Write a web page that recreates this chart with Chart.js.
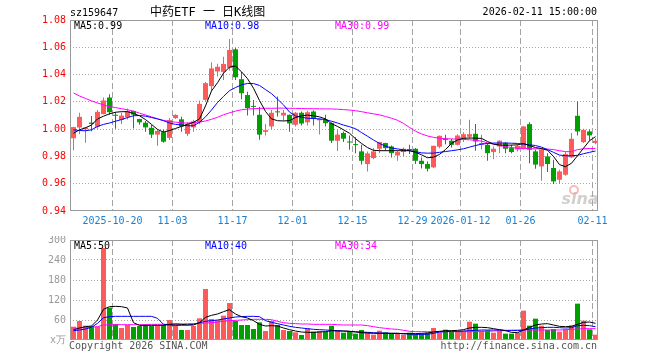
<!DOCTYPE html>
<html><head><meta charset="utf-8">
<script src="https://cdn.jsdelivr.net/npm/chart.js@4.4.1/dist/chart.umd.min.js"></script>
<style>
html,body{margin:0;padding:0;background:#fff;}
#wrap{position:relative;width:660px;height:360px;overflow:hidden;background:#fff;}
#c1{position:absolute;left:0;top:0;}
#c2{position:absolute;left:0;top:236px;}
</style></head><body>
<div id="wrap"><canvas id="c1" width="660" height="236"></canvas><canvas id="c2" width="660" height="124"></canvas></div>
<script>
// ---------------- DATA ----------------
const stockCode = 'sz159647';
const chartTitle = '中药ETF 一 日K线图';
const stamp = '2026-02-11 15:00:00';

const dates = [
 '2025-10-09','2025-10-10','2025-10-13','2025-10-14','2025-10-15','2025-10-16','2025-10-17',
 '2025-10-20','2025-10-21','2025-10-22','2025-10-23','2025-10-24',
 '2025-10-27','2025-10-28','2025-10-29','2025-10-30','2025-10-31',
 '2025-11-03','2025-11-04','2025-11-05','2025-11-06','2025-11-07',
 '2025-11-10','2025-11-11','2025-11-12','2025-11-13','2025-11-14',
 '2025-11-17','2025-11-18','2025-11-19','2025-11-20','2025-11-21',
 '2025-11-24','2025-11-25','2025-11-26','2025-11-27','2025-11-28',
 '2025-12-01','2025-12-02','2025-12-03','2025-12-04','2025-12-05',
 '2025-12-08','2025-12-09','2025-12-10','2025-12-11','2025-12-12',
 '2025-12-15','2025-12-16','2025-12-17','2025-12-18','2025-12-19',
 '2025-12-22','2025-12-23','2025-12-24','2025-12-25','2025-12-26',
 '2025-12-29','2025-12-30','2025-12-31',
 '2026-01-05','2026-01-06','2026-01-07','2026-01-08','2026-01-09',
 '2026-01-12','2026-01-13','2026-01-14','2026-01-15','2026-01-16',
 '2026-01-19','2026-01-20','2026-01-21','2026-01-22','2026-01-23',
 '2026-01-26','2026-01-27','2026-01-28','2026-01-29','2026-01-30',
 '2026-02-02','2026-02-03','2026-02-04','2026-02-05','2026-02-06',
 '2026-02-09','2026-02-10','2026-02-11'
];
const tickDates  = ['2025-10-20','2025-11-03','2025-11-17','2025-12-01','2025-12-15','2025-12-29','2026-01-12','2026-01-26','2026-02-11'];
const tickLabels = ['2025-10-20','11-03','11-17','12-01','12-15','12-29','2026-01-12','01-26','02-11'];

const open = [0.9933,1.0012,0.9998,1.0048,1.0017,1.011,1.0232,1.0102,1.0067,1.0088,
 1.0133,1.0074,1.0047,1.001,0.996,0.9978,0.9936,1.0081,1.0072,0.9965,
 1.0013,1.005,1.0215,1.0315,1.0423,1.042,1.045,1.0585,1.0366,1.025,
 1.0168,1.0105,0.998,1.002,1.0127,1.01,1.0105,1.0032,1.012,1.005,
 1.0129,1.0065,1.007,1.0045,0.9915,0.9972,0.9906,0.9887,0.9837,0.9744,
 0.9788,0.9856,0.9898,0.9873,0.9807,0.9832,0.985,0.9856,0.9768,0.9744,
 0.972,0.9871,0.9924,0.9915,0.9885,0.993,0.9944,0.9966,0.9887,0.9885,
 0.9832,0.9873,0.99,0.9861,0.9851,0.9861,1.0037,0.9837,0.9727,0.98,
 0.9715,0.9629,0.9666,0.9793,1.0098,0.9905,0.9983,0.9898];
const close = [1.0015,1.009,1.0012,1.0038,1.0127,1.021,1.0124,1.0098,1.0099,1.0132,
 1.0106,1.005,1.0013,0.996,0.9987,0.9908,1.0066,1.0104,1.002,1.0037,
 1.0057,1.0185,1.0337,1.0445,1.0457,1.0478,1.058,1.038,1.0263,1.0155,
 1.0163,0.996,0.9993,1.012,1.0123,1.012,1.0042,1.012,1.0041,1.0124,
 1.008,1.0075,1.0044,0.9915,0.996,0.993,0.9902,0.9883,0.9768,0.9822,
 0.9837,0.9905,0.9861,0.9824,0.9832,0.9856,0.9847,0.9768,0.9744,0.971,
 0.9878,0.9951,0.9921,0.9885,0.9953,0.9963,0.9963,0.991,0.9898,0.9824,
 0.9856,0.9915,0.9856,0.9832,0.9878,1.002,0.9849,0.974,0.9849,0.9744,
 0.9617,0.969,0.9817,0.9929,0.9983,0.9995,0.9954,0.9915];
const high = [1.0018,1.012,1.0014,1.0096,1.0141,1.0232,1.0256,1.0125,1.012,1.0152,
 1.0135,1.0076,1.006,1.003,0.9995,0.9995,1.0081,1.011,1.009,1.005,
 1.0069,1.021,1.0345,1.049,1.048,1.053,1.066,1.0595,1.042,1.0275,
 1.0213,1.0165,1.0037,1.0141,1.024,1.0141,1.0108,1.0125,1.013,1.0134,
 1.0139,1.008,1.0105,1.005,0.9995,0.9983,0.9953,0.994,0.9885,0.9837,
 0.9861,0.9907,0.99,0.988,0.9841,0.9866,0.9885,0.9861,0.9793,0.9763,
 0.9878,0.9953,0.9958,0.9929,0.9963,0.9978,1.0068,1.0037,0.9958,0.9898,
 0.9873,0.9918,0.9905,0.9885,0.989,1.002,1.0051,0.985,0.9861,0.9824,
 0.9776,0.9702,0.9832,0.9971,1.0202,1.0002,0.9995,0.9934];
const low = [0.9845,0.9963,0.990,0.9985,1.0002,1.011,1.0105,1.0002,1.0037,1.007,
 1.0004,1.0032,0.998,0.9935,0.9878,0.990,0.992,1.0075,0.998,0.995,
 0.998,1.0035,1.020,1.028,1.0385,1.036,1.043,1.036,1.022,1.01,
 1.01,0.9922,0.9954,1.0,1.0093,1.0061,0.998,1.002,1.0027,1.0027,
 1.0027,0.996,1.002,0.9898,0.984,0.9905,0.9849,0.9824,0.974,0.969,
 0.978,0.9824,0.9841,0.9793,0.9768,0.98,0.9817,0.9744,0.9712,0.969,
 0.9715,0.986,0.989,0.9866,0.988,0.9905,0.993,0.9841,0.985,0.9768,
 0.978,0.9824,0.9824,0.9824,0.9837,0.985,0.975,0.971,0.9622,0.9685,
 0.9598,0.9598,0.9659,0.9788,0.9954,0.9898,0.9915,0.989];

const priceMA5 = [0.997,0.9995,1.001,1.003,1.0075,1.0095,1.0112,1.0124,1.0128,1.0128,1.0115,1.0098,1.007,1.0035,0.9998,0.9978,0.999,1.0005,1.002,1.0035,1.005,1.0075,
 1.017,1.028,1.034,1.041,1.0455,1.0462,1.042,1.037,1.030,1.021,1.013,1.0075,1.0062,1.006,1.0063,1.0085,1.0098,1.0103,1.0098,1.009,1.0075,1.004,
 1.002,0.9995,0.997,0.993,0.9895,0.9865,0.9845,0.9842,0.9842,0.9842,0.9842,0.9842,0.9842,0.983,0.9812,0.979,0.9795,0.9815,0.985,0.9895,0.992,0.9933,
 0.9935,0.9934,0.9932,0.991,0.989,0.9884,0.9882,0.9883,0.9885,0.9895,0.988,0.9865,0.9858,0.9845,0.98,0.974,0.9725,0.975,0.9805,0.986,0.9915,0.9945];
const priceMA10 = [0.9995,0.999,0.9988,0.9995,1.002,1.0035,1.0045,1.0058,1.007,1.0085,1.0098,1.01,1.0095,1.0085,1.0075,1.0062,1.0045,1.0035,1.003,1.0025,1.0025,1.005,
 1.009,1.014,1.0195,1.024,1.0282,1.0305,1.0325,1.0335,1.0334,1.032,1.029,1.026,1.022,1.0178,1.0125,1.0097,1.0087,1.008,1.0078,1.0075,1.007,1.0058,
 1.0045,1.003,1.0018,1.0003,0.9975,0.9948,0.992,0.9895,0.9875,0.9862,0.9855,0.9849,0.9842,0.9835,0.9826,0.9824,0.9824,0.983,0.9836,0.9842,0.9848,0.9856,
 0.9868,0.988,0.989,0.9895,0.9898,0.9898,0.9898,0.9897,0.9895,0.989,0.9885,0.988,0.9868,0.985,0.983,0.981,0.9805,0.9805,0.9808,0.982,0.983,0.984];
const priceMA30 = [1.0265,1.0243,1.0225,1.0207,1.0192,1.0178,1.0164,1.0158,1.015,1.0142,1.0132,1.0117,1.0104,1.009,1.0076,1.0064,1.0057,1.0051,1.0047,1.0044,1.0049,1.0052,
 1.006,1.0072,1.0087,1.0105,1.012,1.0132,1.0142,1.0147,1.015,1.0152,1.0153,1.0153,1.0154,1.0154,1.0153,1.0152,1.0151,1.015,1.015,1.0149,1.0148,1.0148,
 1.0146,1.0143,1.014,1.0135,1.0128,1.012,1.0112,1.0105,1.0093,1.008,1.0065,1.0042,1.0012,0.9985,0.9965,0.995,0.994,0.9933,0.993,0.9928,0.9927,0.9925,
 0.9922,0.9918,0.9912,0.99,0.989,0.988,0.9872,0.9865,0.986,0.9858,0.9857,0.9856,0.9855,0.9854,0.985,0.9842,0.9835,0.9835,0.985,0.9856,0.9858,0.9859];

const volume = [40,57,43,42,40,276,97,48,36,45, 39,42,48,42,45,45,60,45,30,30,
 42,65,153,63,60,73,111,57,45,45, 33,53,27,57,45,30,27,23,15,35,
 25,27,25,43,28,22,26,19,30,24, 16,28,23,20,19,16,22,19,19,22,
 36,23,31,26,27,28,55,49,28,29, 22,28,19,19,22,88,43,64,43,30,
 33,25,32,44,109,58,32,16];
const volMA5 = [30,36,40,42,60,92,100,101,100,96,52,44,43,44,44,44,47,48,47,45,45,52,68,74,78,85,91,78,70,66,58,47,42,43,42,36,31,27,24,23,23,24,25,28,
 27,27,26,24,22,21,20,20,20,20,20,19,19,19,20,21,24,26,28,28,29,31,36,38,38,37,34,31,28,23,22,30,38,45,48,49,45,41,40,41,47,53,54,50];
const volMA10 = [28,30,33,38,50,67,70,71,71,71,71,71,71,71,65,47,45,44,44,45,47,52,56,58,60,63,66,69,70,71,71,70,58,53,49,45,41,38,36,34,32,31,30,29,
 28,27,26,25,24,23,22,21,21,20,20,19,18,17,17,17,20,24,25,26,26,27,28,29,30,30,30,30,29,29,28,30,33,36,37,38,38,37,36,37,43,44,43,40];
const volMA30 = [35,36,37,38,40,45,46,46,46,46,46,46,46,47,47,47,47,48,48,49,49,50,51,52,54,56,58,59,60,61,62,62,62,61,56,52,50,49,48,48,47,47,47,47,
 46,45,45,45,45,43,40,37,35,33,32,29,26,25,25,25,25,25,25,25,25,25,25,25,26,26,27,28,28,29,30,30,30,30,30,30,30,30,31,32,33,34,34,34];

// ---------------- STYLE / HELPERS ----------------
const MONO = '"DejaVu Sans Mono","Liberation Mono",monospace';
const TITLEFONT = '"DejaVu Sans Mono","Noto Sans CJK SC",monospace';
const RED = '#ff5a5a', GREEN = '#00a000';
const GRID = '#a4a4a4';
const N = dates.length;
const idx = dates.map((d, i) => i);
const tickIdx = tickDates.map(d => dates.indexOf(d));
const candleColors = idx.map(i => close[i] >= open[i] ? RED : GREEN);
const XMIN = -0.5 - 1/12, XMAX = N - 0.5 - 1/12;

function xScale(showLabels, height) {
  return {
    type: 'linear', offset: false, min: XMIN, max: XMAX,
    afterBuildTicks(s) { s.ticks = tickIdx.map(i => ({ value: i - 0.5 })); },
    ticks: { display: showLabels, autoSkip: false, maxRotation: 0, minRotation: 0,
      color: '#1b80d2', font: { family: MONO, size: 10 }, padding: 4,
      callback: (v, k) => tickLabels[k] },
    grid: { display: false, drawTicks: false }, border: { display: false },
    afterFit(s) { s.height = height; s.paddingLeft = 0; s.paddingRight = 0; }
  };
}
function yScale(min, max, step, color, cb) {
  return {
    type: 'linear', min, max,
    ticks: { stepSize: step, color, font: { family: MONO, size: 10 }, padding: 4, callback: cb },
    grid: { display: false, drawTicks: false }, border: { display: false },
    afterFit(s) { s.width = 70; s.paddingTop = 0; s.paddingBottom = 0; }
  };
}
function gridPlugin(drawTexts) {
  return {
    id: 'sinaGrid',
    beforeDatasetsDraw(chart) {
      const { ctx, chartArea: a, scales: { x, y } } = chart;
      ctx.save(); ctx.lineWidth = 1; ctx.strokeStyle = GRID;
      ctx.setLineDash([1, 2]);
      y.ticks.forEach(t => {
        const py = Math.floor(y.getPixelForValue(t.value)) + 0.5;
        if (py < a.top + 2 || py > a.bottom - 2) return;
        ctx.beginPath(); ctx.moveTo(a.left, py); ctx.lineTo(a.right, py); ctx.stroke();
      });
      ctx.setLineDash([6, 3]);
      tickIdx.forEach(i => {
        const px = Math.floor(x.getPixelForValue(i - 0.5)) + 0.5;
        ctx.beginPath(); ctx.moveTo(px, a.top); ctx.lineTo(px, a.bottom); ctx.stroke();
      });
      ctx.restore();
    },
    afterDatasetsDraw(chart) {
      const { ctx, chartArea: a } = chart;
      ctx.save(); ctx.lineWidth = 1; ctx.strokeStyle = '#9a9a9a'; ctx.setLineDash([]);
      ctx.strokeRect(a.left + 0.5, a.top + 0.5, a.right - a.left - 1, a.bottom - a.top - 1);
      ctx.restore();
      ctx.save(); drawTexts(ctx, a); ctx.restore();
    }
  };
}
function lineDs(values, color, order) {
  return { type: 'line', data: idx.map(i => ({ x: i, y: values[i] })), borderColor: color,
    borderWidth: 1, pointRadius: 0, tension: 0, fill: false, order };
}
const common = {
  responsive: false, animation: false, events: [],
  plugins: { legend: { display: false }, tooltip: { enabled: false } }
};

// ---------------- PRICE PANEL ----------------
new Chart(document.getElementById('c1'), {
  type: 'bar',
  data: { datasets: [
    lineDs(priceMA5, '#000000', 0),
    lineDs(priceMA10, '#0000ff', 1),
    lineDs(priceMA30, '#ff00ff', 2),
    { type: 'bar', data: idx.map(i => ({ x: i, y: [open[i], close[i]] })), backgroundColor: candleColors,
      barThickness: 5, minBarLength: 1, grouped: false, inflateAmount: 0, borderWidth: 0, order: 3 },
    { type: 'bar', data: idx.map(i => ({ x: i, y: [low[i], high[i]] })), backgroundColor: candleColors,
      barThickness: 1, grouped: false, inflateAmount: 0, borderWidth: 0, order: 4 }
  ] },
  options: Object.assign({}, common, {
    layout: { padding: { left: 0, right: 62, top: 20, bottom: 0 } },
    scales: { x: xScale(true, 25), y: yScale(0.94, 1.08, 0.02, '#ff0000', v => Number(v).toFixed(2)) }
  }),
  plugins: [gridPlugin((ctx, a) => {
    ctx.textBaseline = 'middle'; ctx.textAlign = 'left';
    ctx.font = '10px ' + MONO;
    ctx.fillStyle = '#000'; ctx.fillText('MA5:' + priceMA5[N - 1].toFixed(2), 74, 26);
    ctx.fillStyle = '#0000ff'; ctx.fillText('MA10:' + priceMA10[N - 1].toFixed(2), 205, 26);
    ctx.fillStyle = '#ff00ff'; ctx.fillText('MA30:' + priceMA30[N - 1].toFixed(2), 335, 26);
    ctx.fillStyle = '#000'; ctx.fillText(stockCode, 70, 13);
    ctx.textAlign = 'right'; ctx.fillText(stamp, 597, 12.5);
    ctx.textAlign = 'left'; ctx.font = '12px ' + TITLEFONT; ctx.fillText(chartTitle, 150, 12.5);
    // sina watermark
    ctx.globalAlpha = 0.55;
    ctx.strokeStyle = '#f08080'; ctx.lineWidth = 2;
    ctx.beginPath(); ctx.arc(574, 190, 4, 0, Math.PI * 2); ctx.stroke();
    ctx.fillStyle = '#b0a8a8'; ctx.font = 'italic bold 16px "DejaVu Sans",sans-serif';
    ctx.textAlign = 'center'; ctx.fillText('sina', 580, 200);
  })]
});

// ---------------- VOLUME PANEL ----------------
new Chart(document.getElementById('c2'), {
  type: 'bar',
  data: { datasets: [
    lineDs(volMA5, '#000000', 0),
    lineDs(volMA10, '#0000ff', 1),
    lineDs(volMA30, '#ff00ff', 2),
    { type: 'bar', data: idx.map(i => ({ x: i, y: volume[i] })), backgroundColor: candleColors,
      barThickness: 5, grouped: false, inflateAmount: 0, borderWidth: 0, order: 3 }
  ] },
  options: Object.assign({}, common, {
    layout: { padding: { left: 0, right: 62, top: 4, bottom: 0 } },
    scales: { x: xScale(false, 20), y: yScale(0, 300, 60, '#999999', v => v === 0 ? 'x万' : String(v)) }
  }),
  plugins: [gridPlugin((ctx, a) => {
    ctx.textBaseline = 'middle'; ctx.textAlign = 'left';
    ctx.font = '10px ' + MONO;
    ctx.fillStyle = '#000'; ctx.fillText('MA5:' + volMA5[N - 1], 74, 10.5);
    ctx.fillStyle = '#0000ff'; ctx.fillText('MA10:' + volMA10[N - 1], 205, 10.5);
    ctx.fillStyle = '#ff00ff'; ctx.fillText('MA30:' + volMA30[N - 1], 335, 10.5);
    ctx.fillStyle = '#555'; ctx.fillText('Copyright 2026 SINA.COM', 69, 110);
    ctx.textAlign = 'right'; ctx.fillText('http://finance.sina.com.cn', 597, 110);
  })]
});
</script>
</body></html>
